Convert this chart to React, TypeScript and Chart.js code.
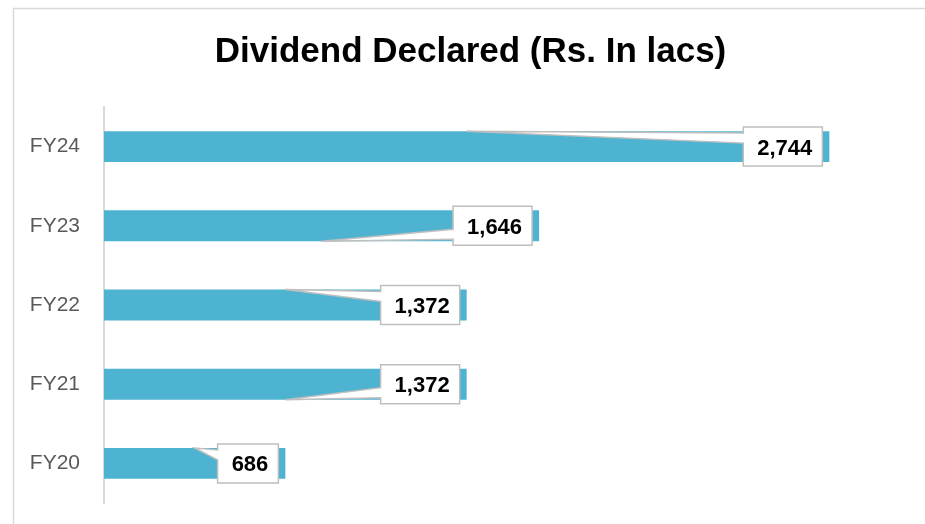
import React, { useEffect, useRef } from "react";
import { Chart, registerables } from "chart.js";

Chart.register(...registerables);

const categories = ["FY24", "FY23", "FY22", "FY21", "FY20"];
const dividendValues = [2744, 1646, 1372, 1372, 686];
const valueLabels = ["2,744", "1,646", "1,372", "1,372", "686"];
const leaderSides = ["top", "bottom", "top", "bottom", "top"];
const chartTitle = "Dividend Declared (Rs. In lacs)";

const BAR_COLOR = "#4EB3D0";
const FONT = "'Liberation Sans', Arial, sans-serif";

const framePlugin = {
  id: "frame",
  beforeDraw(chart: any) {
    const ctx = chart.ctx;
    ctx.save();
    ctx.strokeStyle = "#d9d9d9";
    ctx.lineWidth = 1.5;
    ctx.beginPath();
    ctx.moveTo(13.5, chart.height + 5);
    ctx.lineTo(13.5, 8.5);
    ctx.lineTo(chart.width + 5, 8.5);
    ctx.stroke();
    // title
    ctx.fillStyle = "#000000";
    ctx.font = `bold 35px ${FONT}`;
    ctx.textAlign = "center";
    ctx.textBaseline = "alphabetic";
    ctx.fillText(chartTitle, 470.5, 62);
    ctx.restore();
  },
};

const calloutPlugin = {
  id: "callouts",
  afterDatasetsDraw(chart: any) {
    const ctx = chart.ctx;
    const meta = chart.getDatasetMeta(0);
    const xScale = chart.scales.x;
    ctx.save();
    ctx.font = `bold 22px ${FONT}`;
    meta.data.forEach((bar: any, i: number) => {
      const v = dividendValues[i];
      const label = valueLabels[i];
      const endX = xScale.getPixelForValue(v);
      const cy = bar.y;
      const half = bar.height / 2;
      const tw = ctx.measureText(label).width;
      const w = tw + 24;
      const h = 39;
      const boxR = endX - 7;
      const boxL = boxR - w;
      const boxT = cy - h / 2;
      const boxB = cy + h / 2;
      const tipX = xScale.getPixelForValue(v / 2);
      const top = leaderSides[i] === "top";
      const tipY = top ? cy - half : cy + half;
      const baseT = top ? boxT + 6 : boxB - 16;
      const baseB = top ? boxT + 16 : boxB - 6;
      ctx.beginPath();
      ctx.moveTo(boxL, boxT);
      ctx.lineTo(boxR, boxT);
      ctx.lineTo(boxR, boxB);
      ctx.lineTo(boxL, boxB);
      ctx.lineTo(boxL, baseB);
      ctx.lineTo(tipX, tipY);
      ctx.lineTo(boxL, baseT);
      ctx.closePath();
      ctx.fillStyle = "#ffffff";
      ctx.fill();
      ctx.strokeStyle = "#bfbfbf";
      ctx.lineWidth = 1.5;
      ctx.lineJoin = "miter";
      ctx.stroke();
      ctx.fillStyle = "#000000";
      ctx.textAlign = "center";
      ctx.textBaseline = "alphabetic";
      ctx.fillText(label, (boxL + boxR) / 2 + 2, cy + 8);
    });
    ctx.restore();
  },
};

export default function App() {
  const ref = useRef<HTMLCanvasElement | null>(null);
  useEffect(() => {
    if (!ref.current) return;
    const chart = new Chart(ref.current, {
      type: "bar",
      data: {
        labels: categories,
        datasets: [
          {
            data: dividendValues,
            backgroundColor: BAR_COLOR,
            borderWidth: 0,
            barPercentage: 0.39,
            categoryPercentage: 1,
          },
        ],
      },
      options: {
        indexAxis: "y",
        animation: false,
        responsive: false,
        layout: { padding: { left: 0, right: 28, top: 107, bottom: 21 } },
        plugins: {
          legend: { display: false },
          title: { display: false },
          tooltip: { enabled: false },
        },
        scales: {
          x: {
            display: false,
            min: 0,
            max: 3000,
          },
          y: {
            afterFit(scale: any) {
              scale.width = 104;
              scale.paddingTop = 0;
              scale.paddingBottom = 0;
            },
            grid: { display: false, drawTicks: false },
            border: { display: true, color: "#d9d9d9", width: 2 },
            ticks: {
              color: "#595959",
              padding: 24,
              font: { family: FONT, size: 21 },
            },
          },
        },
      },
      plugins: [framePlugin, calloutPlugin],
    });
    return () => chart.destroy();
  }, []);
  return (
    <div style={{ position: "fixed", left: 0, top: 0, width: 925, height: 524, background: "#fff" }}>
      <canvas ref={ref} width={925} height={524} style={{ width: 925, height: 524, display: "block" }} />
    </div>
  );
}
